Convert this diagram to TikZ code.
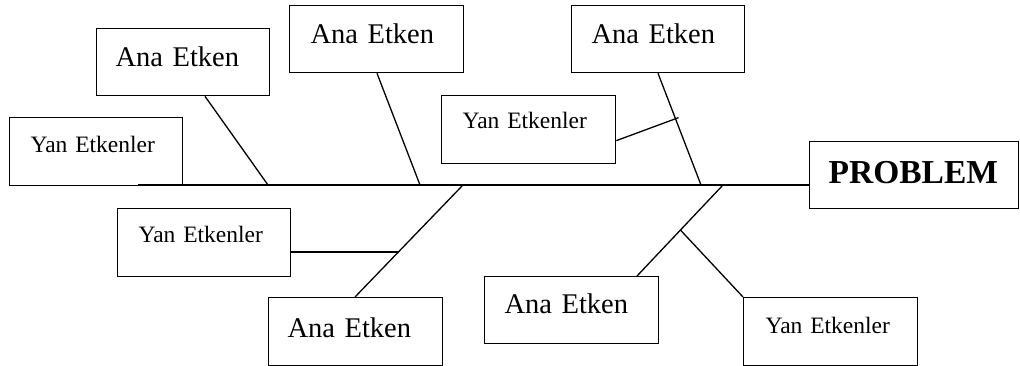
\documentclass[tikz,border=0pt]{standalone}
\usepackage{fontspec}
\setmainfont{Liberation Serif}
\usetikzlibrary{calc}

\tikzset{
  fbox/.style={draw, line width=1.3pt, inner ysep=0pt, align=left, anchor=north west},
  ana/.style={fbox, font=\fontsize{28.5}{30}\selectfont},
  yan/.style={fbox, font=\fontsize{23.5}{25}\selectfont},
  prob/.style={fbox, font=\fontsize{33.5}{36}\selectfont\bfseries},
  geom/.style n args={4}{inner xsep=#1pt, text width=#2pt, text height=#3pt, text depth=#4pt},
  bone/.style={line width=1.3pt}
}

\begin{document}
\begin{tikzpicture}[x=1pt, y=-1pt]
  \useasboundingbox (0,0) rectangle (1020,366);

  % main causes (Ana Etken)
  \node[ana, geom={19}{135}{38}{29}] (a1) at (96,28)  {Ana Etken};
  \node[ana, geom={21}{132}{38}{29}] (a2) at (289,5)  {Ana Etken};
  \node[ana, geom={20}{133}{38}{29}] (a3) at (571,5)  {Ana Etken};
  \node[ana, geom={19}{136}{40}{28}] (a4) at (268,297) {Ana Etken};
  \node[ana, geom={20}{134}{37}{30}] (a5) at (484,276) {Ana Etken};

  % sub causes (Yan Etkenler)
  \node[yan, geom={21}{131}{35}{33}] (y1) at (9,117)   {Yan Etkenler};
  \node[yan, geom={21}{132}{33}{35}] (y2) at (441,95)  {Yan Etkenler};
  \node[yan, geom={21}{131}{34}{34}] (y3) at (117,208) {Yan Etkenler};
  \node[yan, geom={22}{130}{36}{32}] (y4) at (743,297) {Yan Etkenler};

  % head of the fish
  \node[prob, geom={19}{171}{42}{25}] (P) at (809,141) {PROBLEM};

  % spine
  \coordinate (tail) at (138,185);
  \draw[bone] (tail) -- (tail -| P.west);

  % joints on the spine
  \coordinate (j1) at (268,185);
  \coordinate (j2) at (420,185);
  \coordinate (j3) at (701,185);
  \coordinate (j4) at (463,185);
  \coordinate (j5) at (723,185);

  % feet of the bones on the boxes
  \coordinate (a1f) at ([xshift=109pt]a1.south west);
  \coordinate (a2f) at ([xshift=88pt]a2.south west);
  \coordinate (a3f) at ([xshift=87pt]a3.south west);
  \coordinate (a4f) at ([xshift=87pt]a4.north west);
  \coordinate (a5f) at ([xshift=153pt]a5.north west);

  % main bones
  \draw[bone] (j1) -- (a1f);
  \draw[bone] (j2) -- (a2f);
  \draw[bone] (j3) -- (a3f);
  \draw[bone] (j4) -- (a4f);
  \draw[bone] (j5) -- (a5f);

  % sub bones
  \coordinate (b3) at ($(j3)!0.593!(a3f)$);
  \coordinate (y2p) at ([yshift=-11pt]y2.east);
  \draw[bone] (y2p) -- ($(y2p)!1.05!(b3)$);

  \coordinate (b4) at ($(j4)!0.598!(a4f)$);
  \draw[bone] (b4 -| y3.east) -- (b4);

  \coordinate (b5) at ($(j5)!0.495!(a5f)$);
  \draw[bone] (y4.north west) -- (b5);
\end{tikzpicture}
\end{document}
